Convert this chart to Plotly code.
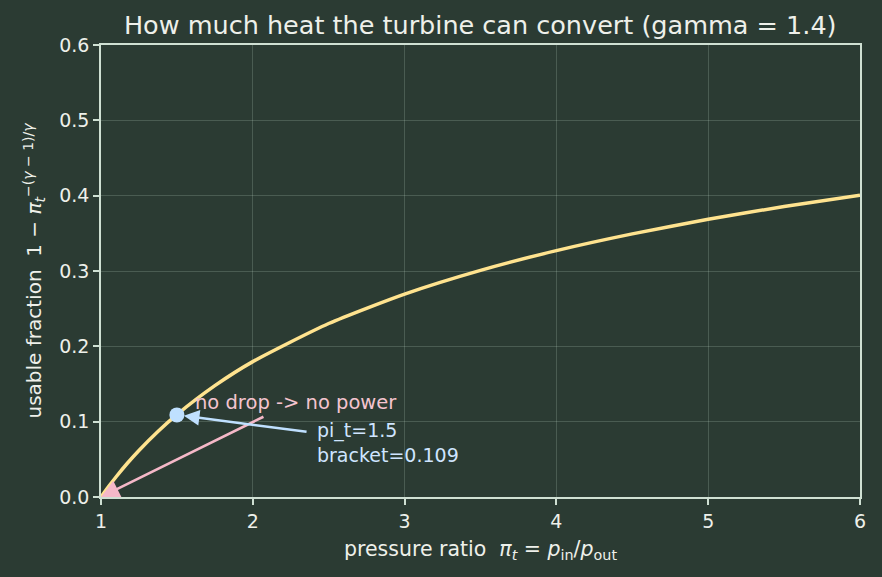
import plotly.graph_objects as go

# curve samples (pressure ratio -> usable fraction)
pi_t = [1.0, 1.02, 1.05, 1.1, 1.175, 1.25, 1.375, 1.5, 1.75, 2.0, 2.5, 3.0, 3.5, 4.0, 4.5, 5.0, 5.5, 6.0]
frac = [0.0, 0.0056, 0.0138, 0.0269, 0.0451, 0.0618, 0.0870, 0.1094, 0.1478, 0.1797, 0.2303, 0.2694,
        0.3009, 0.3271, 0.3493, 0.3686, 0.3856, 0.4007]

pt_x = [1.5]
pt_y = [0.109]

x_ticks = [1, 2, 3, 4, 5, 6]
y_ticks = [0.0, 0.1, 0.2, 0.3, 0.4, 0.5, 0.6]

BG = "#2b3b33"
AX = "#cfe0d3"
TXT = "#eef0ea"
CURVE = "#ffe38f"
BLUE = "#bfe0ff"
PINK = "#f5b8c8"
FONT = "DejaVu Sans"

fig = go.Figure()
fig.add_trace(go.Scatter(x=pi_t, y=frac, mode="lines", line=dict(color=CURVE, width=3.5, shape="spline", smoothing=0.6),
                         hoverinfo="skip", showlegend=False))
fig.add_trace(go.Scatter(x=pt_x, y=pt_y, mode="markers", marker=dict(color=BLUE, size=15),
                         showlegend=False))

# pink arrow to (1, 0)
fig.add_annotation(x=1.0, y=0.0, ax=2.08, ay=0.1075, xref="x", yref="y", axref="x", ayref="y",
                   text="", showarrow=True, arrowhead=2, arrowsize=1.4, arrowwidth=2.6, arrowcolor=PINK, standoff=0)
fig.add_annotation(x=1.606, y=0.126, xref="x", yref="y", text="no drop -> no power", showarrow=False,
                   xanchor="left", yanchor="middle", font=dict(family=FONT, size=19.5, color="#f4c4cf"))
# blue arrow to marker
fig.add_annotation(x=pt_x[0], y=pt_y[0], ax=2.364, ay=0.0863, xref="x", yref="y", axref="x", ayref="y",
                   text="", showarrow=True, arrowhead=2, arrowsize=1.2, arrowwidth=2.6, arrowcolor=BLUE, standoff=7)
fig.add_annotation(x=2.41, y=0.0717, xref="x", yref="y", text="pi_t=1.5<br>bracket=0.109", showarrow=False,
                   xanchor="left", yanchor="middle", align="left",
                   font=dict(family=FONT, size=19, color="#cfe5ff"))

axis_common = dict(showline=True, linecolor=AX, linewidth=1.5, mirror=True, ticks="outside", tickcolor=AX,
                   ticklen=6, tickwidth=1.5, showgrid=True, gridcolor="rgba(200,225,210,0.2)", gridwidth=1,
                   zeroline=False, tickfont=dict(family=FONT, size=19, color=TXT))

fig.update_xaxes(range=[1, 6], tickvals=x_ticks, ticktext=[str(v) for v in x_ticks],
                 title=dict(text="pressure ratio  <i>π</i><sub><i>t</i></sub> = <i>p</i><sub>in</sub>/<i>p</i><sub>out</sub>",
                            font=dict(family=FONT, size=20.5, color=TXT), standoff=11),
                 **axis_common)
fig.update_yaxes(range=[0, 0.6], tickvals=y_ticks, ticktext=[f"{v:.1f}" for v in y_ticks],
                 title=dict(text="usable fraction  1 − <i>π</i><sub><i>t</i></sub><sup>−(<i>γ</i> − 1)/<i>γ</i></sup>",
                            font=dict(family=FONT, size=20, color=TXT), standoff=12),
                 **axis_common)

fig.update_layout(
    width=882, height=577,
    paper_bgcolor=BG, plot_bgcolor=BG,
    margin=dict(l=101, r=22, t=45, b=80),
    title=dict(text="How much heat the turbine can convert (gamma = 1.4)", x=0.5445, xanchor="center",
               y=1 - 25 / 577, yanchor="middle", yref="container",
               font=dict(family=FONT, size=25.5, color=TXT)),
    showlegend=False,
)

fig.write_html("out.html")
